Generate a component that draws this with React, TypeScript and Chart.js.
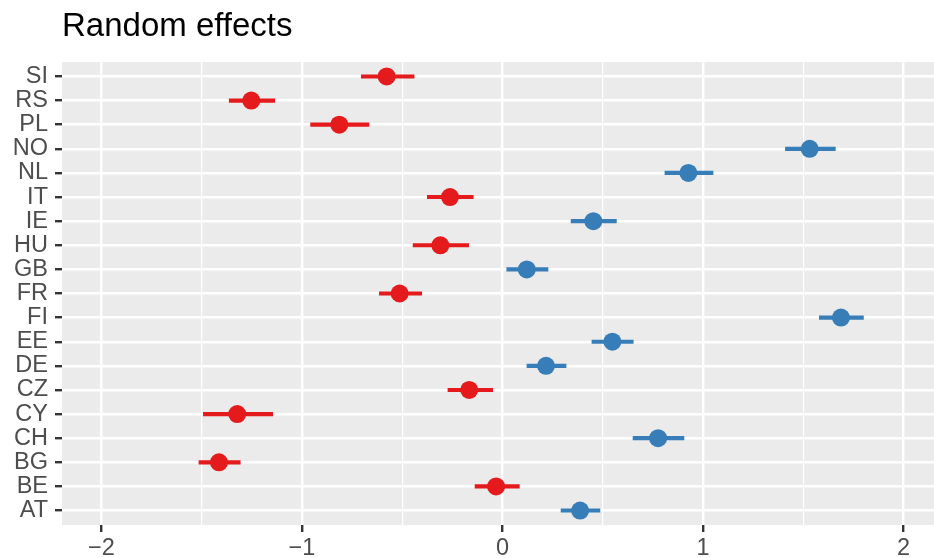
import React, { useEffect, useRef } from 'react';
import { Chart, registerables } from 'chart.js';

Chart.register(...registerables);

const chartTitle = 'Random effects';

// bottom (1) to top (19)
const countries = ['AT', 'BE', 'BG', 'CH', 'CY', 'CZ', 'DE', 'EE', 'FI', 'FR', 'GB', 'HU', 'IE', 'IT', 'NL', 'NO', 'PL', 'RS', 'SI'];
const estimates = [0.387, -0.032, -1.414, 0.776, -1.323, -0.166, 0.217, 0.548, 1.688, -0.513, 0.121, -0.31, 0.453, -0.262, 0.927, 1.532, -0.814, -1.253, -0.578];
const lower = [0.292, -0.137, -1.514, 0.651, -1.492, -0.272, 0.122, 0.446, 1.58, -0.614, 0.021, -0.446, 0.342, -0.375, 0.81, 1.411, -0.957, -1.363, -0.704];
const upper = [0.486, 0.084, -1.308, 0.905, -1.146, -0.049, 0.317, 0.652, 1.8, -0.403, 0.227, -0.169, 0.568, -0.146, 1.05, 1.66, -0.666, -1.136, -0.441];

const xMajorTicks = [-2, -1, 0, 1, 2];
const xTickLabels = ['\u22122', '\u22121', '0', '1', '2'];
const xMinorTicks = [-1.5, -0.5, 0.5, 1.5];

const RED = '#E41A1C';
const BLUE = '#377EB8';
const FONT = '"Liberation Sans", Arial, Helvetica, sans-serif';

const isMajor = (v: number) => xMajorTicks.indexOf(v) >= 0;

export default function App() {
  const ref = useRef<HTMLCanvasElement>(null);

  useEffect(() => {
    document.body.style.margin = '0';
    const colors = estimates.map((v) => (v < 0 ? RED : BLUE));

    const panelBg = {
      id: 'panelBg',
      beforeDraw(chart: any) {
        const { ctx, chartArea: a } = chart;
        ctx.save();
        ctx.fillStyle = '#EBEBEB';
        ctx.fillRect(a.left, a.top, a.right - a.left, a.bottom - a.top);
        ctx.restore();
      },
    };

    const chart = new Chart(ref.current as HTMLCanvasElement, {
      type: 'scatter',
      data: {
        datasets: [
          {
            type: 'scatter',
            data: estimates.map((v, i) => ({ x: v, y: i + 1 })),
            pointBackgroundColor: colors,
            pointBorderWidth: 0,
            pointRadius: 9,
            pointHoverRadius: 9,
            order: 0,
          } as any,
          {
            type: 'bar',
            indexAxis: 'y',
            data: countries.map((_, i) => ({ y: i + 1, x: [lower[i], upper[i]] })),
            backgroundColor: colors,
            borderWidth: 0,
            barThickness: 3.5,
            order: 1,
          } as any,
        ],
      },
      options: {
        responsive: false,
        maintainAspectRatio: false,
        animation: false,
        devicePixelRatio: 1,
        events: [],
        layout: { padding: 0, autoPadding: false },
        plugins: {
          legend: { display: false },
          tooltip: { enabled: false },
          title: {
            display: true,
            text: chartTitle,
            align: 'start',
            fullSize: false,
            color: '#000000',
            font: { family: FONT, size: 33, weight: 'normal' },
            padding: { top: 7.1, bottom: 15.3 },
          },
        },
        scales: {
          x: {
            type: 'linear',
            position: 'bottom',
            min: -2.197,
            max: 2.152,
            offset: false,
            afterBuildTicks: (s: any) => {
              s.ticks = [...xMajorTicks, ...xMinorTicks]
                .sort((a, b) => a - b)
                .map((v) => ({ value: v }));
            },
            afterFit: (s: any) => {
              s.height = 33;
              s.paddingLeft = 0;
              s.paddingRight = 0;
            },
            grid: {
              color: '#FFFFFF',
              lineWidth: (c: any) => (c.tick && !isMajor(c.tick.value) ? 1.2 : 2.4),
              tickColor: (c: any) => (c.tick && !isMajor(c.tick.value) ? 'rgba(0,0,0,0)' : '#333333'),
              tickWidth: 2.4,
              tickLength: 7,
              offset: false,
            },
            border: { display: false },
            ticks: {
              autoSkip: false,
              maxRotation: 0,
              padding: 2.3,
              color: '#4D4D4D',
              font: { family: FONT, size: 23.5 },
              callback: (v: any) => {
                const k = xMajorTicks.indexOf(Number(v));
                return k >= 0 ? xTickLabels[k] : '';
              },
            },
          },
          y: {
            type: 'linear',
            min: 0.4,
            max: 19.6,
            offset: false,
            afterBuildTicks: (s: any) => {
              s.ticks = countries.map((_, i) => ({ value: i + 1 }));
            },
            afterFit: (s: any) => {
              s.width = 62;
            },
            grid: {
              color: '#FFFFFF',
              lineWidth: 2.4,
              tickColor: '#333333',
              tickWidth: 2.4,
              tickLength: 7,
              offset: false,
            },
            border: { display: false },
            ticks: {
              autoSkip: false,
              padding: 7,
              color: '#4D4D4D',
              font: { family: FONT, size: 23.5 },
              callback: (v: any) => countries[Math.round(Number(v)) - 1] ?? '',
            },
          },
        },
      } as any,
      plugins: [panelBg],
    });

    return () => chart.destroy();
  }, []);

  return (
    <div style={{ width: 934, height: 558 }}>
      <canvas ref={ref} width={934} height={558} style={{ display: 'block', width: 934, height: 558 }} />
    </div>
  );
}
